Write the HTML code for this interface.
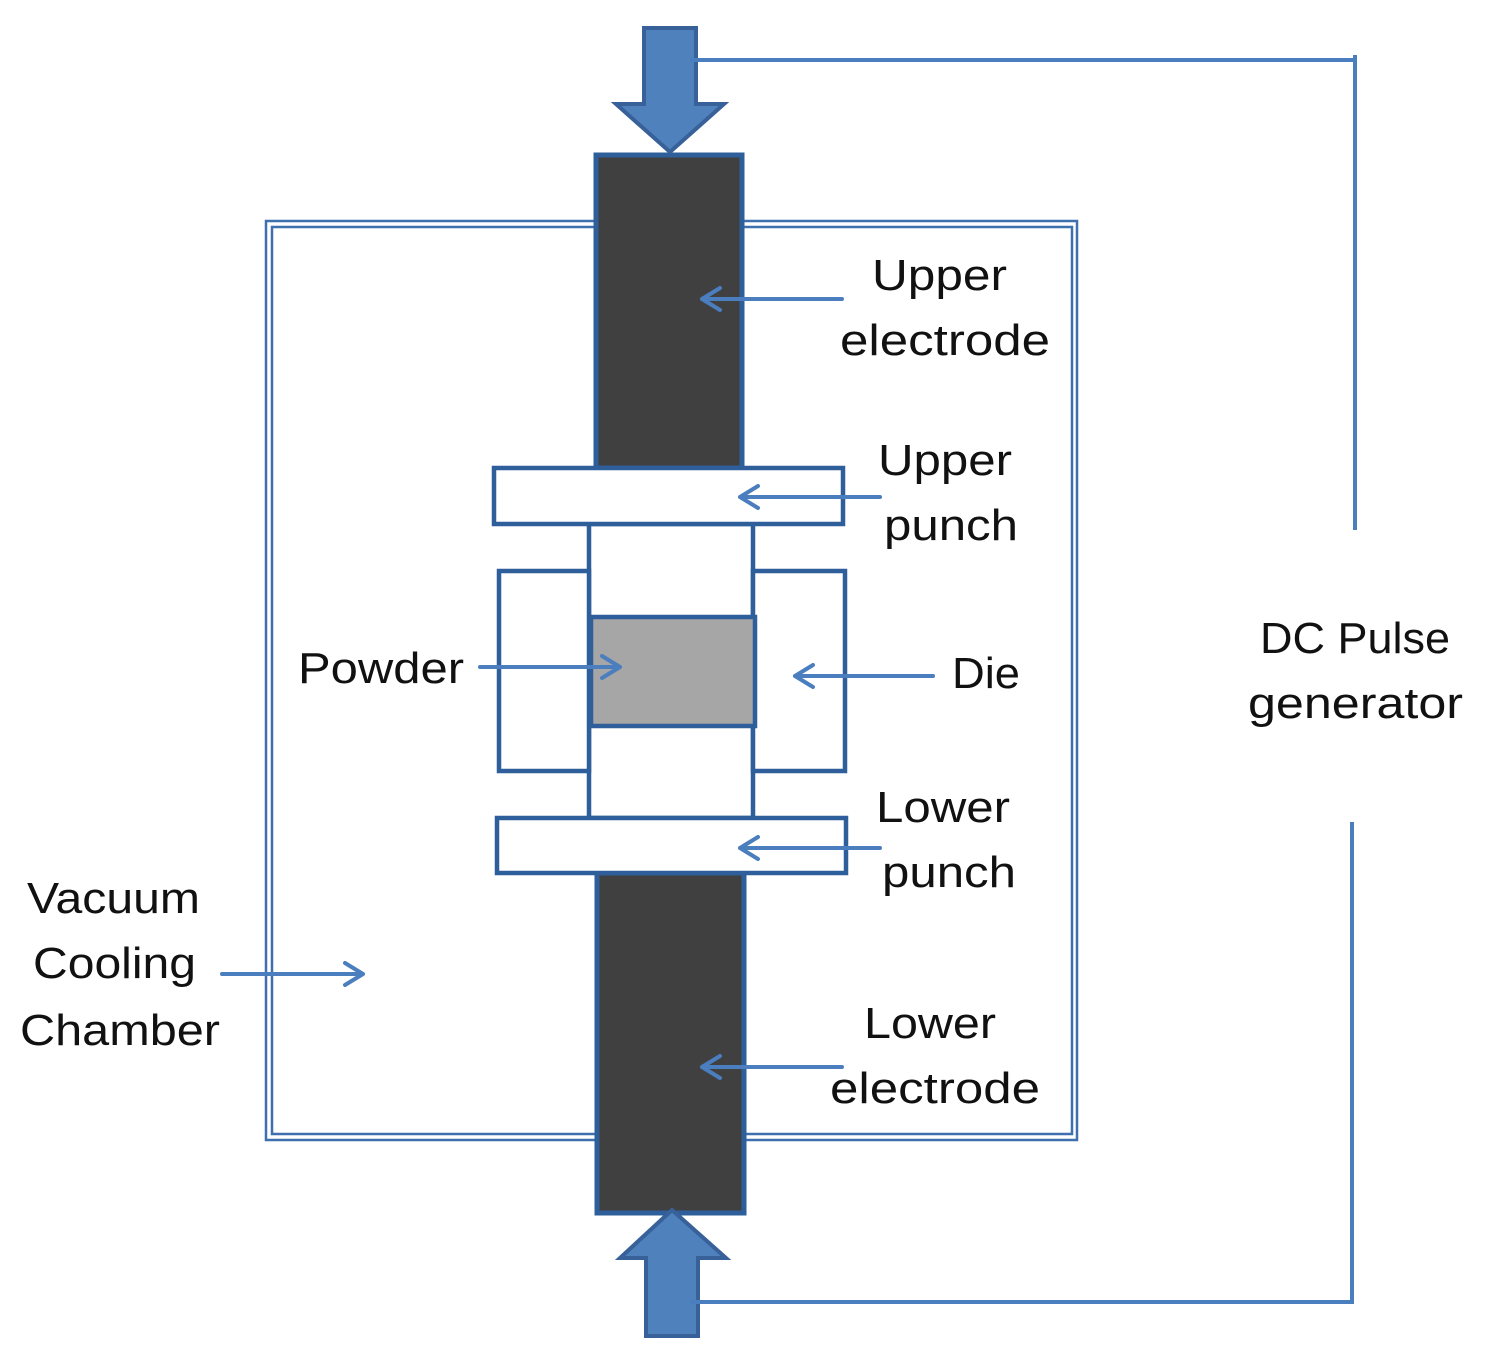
<!DOCTYPE html>
<html><head><style>html,body{margin:0;padding:0;background:#fff}svg{display:block}</style></head>
<body>
<svg width="1485" height="1354" viewBox="0 0 1485 1354" xmlns="http://www.w3.org/2000/svg">
<defs>
<marker id="ah" viewBox="0 0 10 10" refX="9" refY="5" markerWidth="7" markerHeight="7" orient="auto" markerUnits="userSpaceOnUse">
</marker>
</defs>
<g fill="none" stroke="#3e6fae" stroke-width="2.5">
<rect x="266" y="221" width="811" height="919"/>
<rect x="272" y="227" width="800" height="907"/>
</g>
<!-- wires -->
<g stroke="#4a7ebf" stroke-width="4" fill="none">
<line x1="690" y1="60" x2="1355" y2="60"/>
<line x1="1355" y1="55" x2="1355" y2="530"/>
<line x1="1352" y1="822" x2="1352" y2="1304"/>
<line x1="690" y1="1302" x2="1354" y2="1302"/>
</g>
<!-- electrodes -->
<rect x="596" y="155" width="146" height="313" fill="#404040" stroke="#2e5f9a" stroke-width="5"/>
<rect x="597" y="873" width="147" height="340" fill="#404040" stroke="#2e5f9a" stroke-width="5"/>
<!-- arrows -->
<polygon points="644,28 696,28 696,104 724,104 670,152 616,104 644,104" fill="#4f81bd" stroke="#386099" stroke-width="4"/>
<polygon points="646,1336 698,1336 698,1258 726,1258 672,1210 620,1258 646,1258" fill="#4f81bd" stroke="#386099" stroke-width="4"/>
<line x1="690" y1="60" x2="1355" y2="60" stroke="#4a7ebf" stroke-width="4"/>
<line x1="690" y1="1302" x2="1354" y2="1302" stroke="#4a7ebf" stroke-width="4"/>
<!-- die etc -->
<g fill="#fff" stroke="#2e5f9a" stroke-width="4.5">
<rect x="589" y="524" width="164" height="294"/>
<rect x="499" y="571" width="90" height="200"/>
<rect x="753" y="571" width="92" height="200"/>
<rect x="591" y="617" width="164" height="109" fill="#a6a6a6"/>
<rect x="494" y="468" width="349" height="56"/>
<rect x="497" y="818" width="349" height="55"/>
</g>
<!-- label arrows -->
<g stroke="#4a7ebf" stroke-width="4" fill="none" stroke-linecap="round" stroke-linejoin="round">
<path d="M842 299 H702 M720 288 L702 299 L720 310"/>
<path d="M880 497 H740 M758 486 L740 497 L758 508"/>
<path d="M480 667 H620 M602 656 L620 667 L602 678"/>
<path d="M933 676 H795 M813 665 L795 676 L813 687"/>
<path d="M880 848 H740 M758 837 L740 848 L758 859"/>
<path d="M842 1067 H702 M720 1056 L702 1067 L720 1078"/>
<path d="M222 974 H363 M345 963 L363 974 L345 985"/>
</g>
<g font-family="'Liberation Sans',sans-serif" font-size="44" fill="#111" lengthAdjust="spacingAndGlyphs">
<text x="872" y="290" textLength="135" lengthAdjust="spacingAndGlyphs">Upper</text>
<text x="840" y="355" textLength="210" lengthAdjust="spacingAndGlyphs">electrode</text>
<text x="878" y="475" textLength="134" lengthAdjust="spacingAndGlyphs">Upper</text>
<text x="884" y="540" textLength="134" lengthAdjust="spacingAndGlyphs">punch</text>
<text x="298" y="683" textLength="166" lengthAdjust="spacingAndGlyphs">Powder</text>
<text x="952" y="688" textLength="68" lengthAdjust="spacingAndGlyphs">Die</text>
<text x="876" y="822" textLength="134" lengthAdjust="spacingAndGlyphs">Lower</text>
<text x="882" y="887" textLength="134" lengthAdjust="spacingAndGlyphs">punch</text>
<text x="27" y="913" textLength="173" lengthAdjust="spacingAndGlyphs">Vacuum</text>
<text x="33" y="978" textLength="163" lengthAdjust="spacingAndGlyphs">Cooling</text>
<text x="20" y="1045" textLength="200" lengthAdjust="spacingAndGlyphs">Chamber</text>
<text x="864" y="1038" textLength="132" lengthAdjust="spacingAndGlyphs">Lower</text>
<text x="830" y="1103" textLength="210" lengthAdjust="spacingAndGlyphs">electrode</text>
<text x="1260" y="653" textLength="190" lengthAdjust="spacingAndGlyphs">DC Pulse</text>
<text x="1248" y="718" textLength="215" lengthAdjust="spacingAndGlyphs">generator</text>
</g>
</svg>
</body></html>
